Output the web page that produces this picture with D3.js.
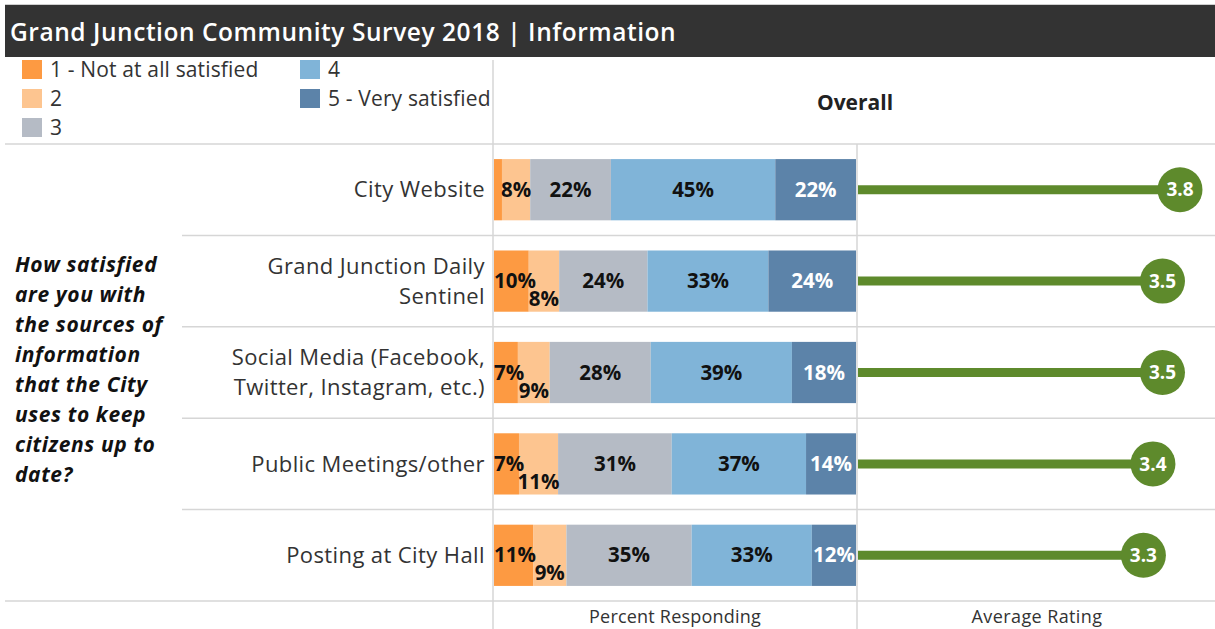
<!DOCTYPE html>
<html>
<head>
<meta charset="utf-8">
<script src="https://cdn.jsdelivr.net/npm/d3@7"></script>
<style>
  body { margin: 0; background: #fff; }
  svg { display: block; font-family: "Open Sans", sans-serif; }
</style>
</head>
<body>
<svg id="chart"></svg>
<script>
// data
const sources = ['City Website', 'Grand Junction Daily Sentinel', 'Social Media (Facebook, Twitter, Instagram, etc.)', 'Public Meetings/other', 'Posting at City Hall'];
const sourceLines = [
  ['City Website'],
  ['Grand Junction Daily', 'Sentinel'],
  ['Social Media (Facebook,', 'Twitter, Instagram, etc.)'],
  ['Public Meetings/other'],
  ['Posting at City Hall']
];
const levels = ['1 - Not at all satisfied', '2', '3', '4', '5 - Very satisfied'];
const level1 = [2.2, 9.6, 6.6, 6.9, 10.8];
const level2 = [7.8, 8.4, 8.8, 10.8, 9.2];
const level3 = [22.3, 24.4, 27.9, 31.4, 34.6];
const level4 = [45.4, 33.4, 39.0, 37.1, 33.2];
const level5 = [22.3, 24.2, 17.7, 13.8, 12.2];
const avgRating = [3.76, 3.54, 3.54, 3.42, 3.30];
const questionLines = ['How satisfied', 'are you with', 'the sources of', 'information', 'that the City', 'uses to keep', 'citizens up to', 'date?'];

const colors = ['#fd9a42', '#fdc590', '#b5bbc5', '#80b4d8', '#5c83a9'];
const labelColors = ['#111', '#111', '#111', '#111', '#fff'];
const green = '#5e8a2c';
const gridColor = '#d6d6d6';

const width = 1215, height = 629;
const svg = d3.select('#chart').attr('width', width).attr('height', height);

// title bar
svg.append('line').attr('x1', 5).attr('x2', width).attr('y1', 4.5).attr('y2', 4.5)
  .attr('stroke', '#cfcfcf').attr('stroke-width', 1);
svg.append('rect').attr('x', 5).attr('y', 5).attr('width', width - 5).attr('height', 52).attr('fill', '#333333');
svg.append('text').attr('x', 10).attr('y', 41).attr('fill', '#fff')
  .style('font-size', '24.5px').style('font-weight', 600).style('letter-spacing', '0.55px')
  .text('Grand Junction Community Survey 2018 | Information');

// legend
const legend = svg.append('g');
const legendPos = [[22, 70], [22, 99], [22, 128], [300, 70], [300, 99]];
levels.forEach((lv, i) => {
  const [lx, ly] = legendPos[i];
  legend.append('rect').attr('x', lx).attr('y', ly - 10).attr('width', 20).attr('height', 19).attr('fill', colors[i]);
  legend.append('text').attr('x', lx + 28).attr('y', ly).attr('dy', '0.35em')
    .attr('fill', '#333').style('font-size', '21px').style('letter-spacing', '0.15px').text(lv);
});

// scales
const y = d3.scaleBand().domain(sources).range([144, 601]).paddingInner(0.33).paddingOuter(0.165);
const x = d3.scaleLinear().domain([0, 100]).range([494, 856]);
const xr = d3.scaleLinear().domain([-0.3, 4.2]).range([857, 1215]);

// grid lines
const rowEdges = sources.map(s => y(s) - y.step() * y.paddingInner() / 2);
rowEdges.push(601);
rowEdges.forEach((yy, i) => {
  const full = i === 0 || i === rowEdges.length - 1;
  svg.append('line').attr('x1', full ? 5 : 182).attr('x2', width)
    .attr('y1', yy).attr('y2', yy).attr('stroke', gridColor).attr('stroke-width', 1.5);
});
svg.append('line').attr('x1', 493).attr('x2', 493).attr('y1', 60).attr('y2', height)
  .attr('stroke', gridColor).attr('stroke-width', 1.5);
svg.append('line').attr('x1', 857).attr('x2', 857).attr('y1', 144).attr('y2', height)
  .attr('stroke', gridColor).attr('stroke-width', 1.5);

// headers
svg.append('text').attr('x', 855).attr('y', 103).attr('dy', '0.35em').attr('text-anchor', 'middle')
  .attr('fill', '#222').style('font-size', '21px').style('font-weight', 'bold').text('Overall');
svg.append('text').attr('x', 675).attr('y', 617).attr('dy', '0.35em').attr('text-anchor', 'middle')
  .attr('fill', '#333').style('font-size', '18px').style('letter-spacing', '0.2px').text('Percent Responding');
svg.append('text').attr('x', 1037).attr('y', 617).attr('dy', '0.35em').attr('text-anchor', 'middle')
  .attr('fill', '#333').style('font-size', '18px').style('letter-spacing', '0.4px').text('Average Rating');

// question text
svg.append('g').selectAll('text').data(questionLines).join('text')
  .attr('x', 15).attr('y', (d, i) => 265 + i * 30).attr('dy', '0.35em')
  .attr('fill', '#111').style('font-size', '21px').style('font-weight', 'bold').style('font-style', 'italic')
  .style('letter-spacing', '0.6px')
  .text(d => d);

// row labels
sources.forEach((s, i) => {
  const cy = y(s) + y.bandwidth() / 2;
  const lines = sourceLines[i];
  svg.append('g').selectAll('text').data(lines).join('text')
    .attr('x', 485).attr('y', (d, j) => cy + (j - (lines.length - 1) / 2) * 30).attr('dy', '0.35em')
    .attr('text-anchor', 'end').attr('fill', '#333').style('font-size', '22px').style('letter-spacing', '0.4px')
    .text(d => d);
});

// stacked bars
const seriesValues = [level1, level2, level3, level4, level5];
const tableRows = sources.map((s, i) => {
  const row = { source: s };
  levels.forEach((lv, k) => { row[lv] = seriesValues[k][i]; });
  return row;
});
const stacked = d3.stack().keys(levels)(tableRows);

const bars = svg.append('g');
stacked.forEach((layer, k) => {
  bars.append('g').attr('fill', colors[k]).selectAll('rect').data(layer).join('rect')
    .attr('x', d => x(d[0])).attr('width', d => x(d[1]) - x(d[0]))
    .attr('y', d => y(d.data.source)).attr('height', y.bandwidth());
});

// segment labels
const labels = svg.append('g').style('font-size', '20.5px').style('font-weight', 'bold');
stacked.forEach((layer, k) => {
  layer.forEach((d, i) => {
    const v = d[1] - d[0];
    if (v < 5) return;
    const first = stacked[0][i];
    const shift = (k === 1 && first[1] - first[0] >= 5) ? 18 : 0;
    const t = labels.append('text')
      .attr('y', y(d.data.source) + y.bandwidth() / 2 + shift).attr('dy', '0.35em')
      .attr('text-anchor', 'middle').attr('fill', labelColors[k])
      .text(d3.format('.0f')(v) + '%');
    const w = t.node().getComputedTextLength();
    let cx = (x(d[0]) + x(d[1])) / 2;
    cx = Math.max(x.range()[0] + w / 2, Math.min(x.range()[1] - w / 2, cx));
    t.attr('x', cx);
  });
});

// average rating lollipops
const lolli = svg.append('g');
avgRating.forEach((v, i) => {
  const cy = y(sources[i]) + y.bandwidth() / 2;
  lolli.append('line').attr('x1', xr.range()[0] + 1).attr('x2', xr(v))
    .attr('y1', cy).attr('y2', cy).attr('stroke', green).attr('stroke-width', 9);
  lolli.append('circle').attr('cx', xr(v)).attr('cy', cy).attr('r', 22.5).attr('fill', green);
  lolli.append('text').attr('x', xr(v)).attr('y', cy).attr('dy', '0.35em').attr('text-anchor', 'middle')
    .attr('fill', '#fff').style('font-size', '19px').style('font-weight', 'bold')
    .text(d3.format('.1f')(v));
});
</script>
</body>
</html>
